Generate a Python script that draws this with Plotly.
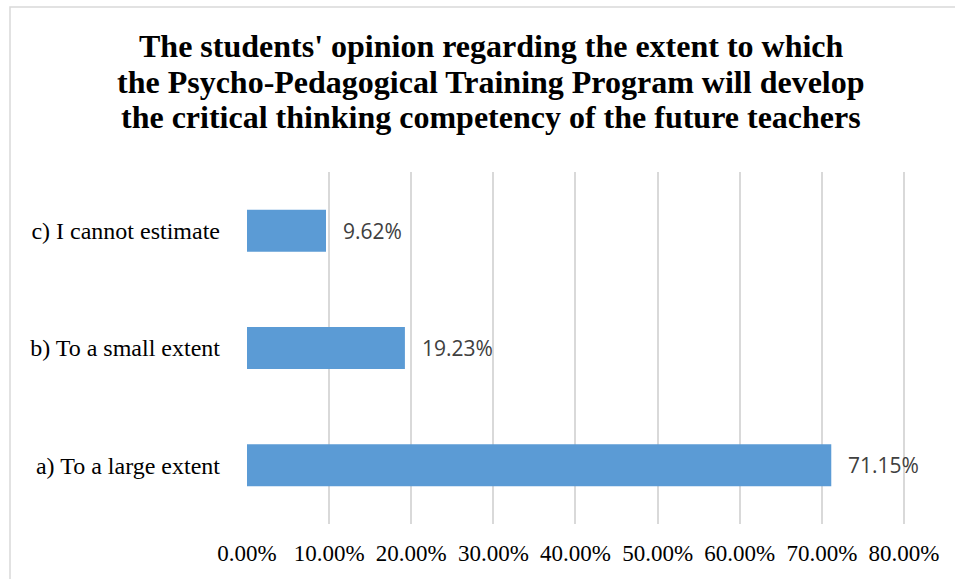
import plotly.graph_objects as go

categories = ["a) To a large extent", "b) To a small extent", "c) I cannot estimate"]
values = [0.7115, 0.1923, 0.0962]
value_labels = ["71.15%", "19.23%", "9.62%"]
title_lines = [
    "The students' opinion regarding the extent to which",
    "the Psycho-Pedagogical Training Program will develop",
    "the critical thinking competency of the future teachers",
]
tick_values = [0, 0.1, 0.2, 0.3, 0.4, 0.5, 0.6, 0.7, 0.8]

W, H = 955, 579
L, R, T, B = 247, 49, 172, 55
pw, ph = W - L - R, H - T - B

def px_x(p):
    return (p - L) / pw

def px_y(p):
    return (H - B - p) / ph

fig = go.Figure()
fig.add_trace(go.Bar(
    y=categories, x=values, orientation="h",
    marker=dict(color="#5B9BD5", line=dict(width=0)),
    hoverinfo="skip",
))

annotations = []
for c, v, lab in zip(categories, values, value_labels):
    annotations.append(dict(
        x=v, y=c, xref="x", yref="y", text=lab, showarrow=False,
        xanchor="left", yanchor="middle", xshift=15,
        font=dict(family="Open Sans", size=21, color="#404040"),
    ))

title_centers = [46, 82, 117]
for line, cy in zip(title_lines, title_centers):
    annotations.append(dict(
        x=px_x(491), y=px_y(cy), xref="paper", yref="paper", text="<b>" + line + "</b>",
        showarrow=False, xanchor="center", yanchor="middle",
        font=dict(family="Liberation Serif", size=32, color="#000000"),
    ))

fig.update_layout(
    width=W, height=H,
    margin=dict(l=L, r=R, t=T, b=B, pad=0),
    paper_bgcolor="white", plot_bgcolor="white",
    bargap=0.642,
    showlegend=False,
    annotations=annotations,
    shapes=[dict(
        type="rect", xref="paper", yref="paper",
        x0=px_x(10), x1=px_x(965), y0=px_y(590), y1=px_y(7),
        line=dict(color="#D9D9D9", width=1.5), fillcolor="rgba(0,0,0,0)", layer="below",
    )],
    xaxis=dict(
        range=[0, 0.8025], tickvals=tick_values, tickformat=".2%",
        showgrid=True, gridcolor="#D9D9D9", gridwidth=1.5,
        zeroline=False, showline=False, ticks="",
        tickfont=dict(family="Liberation Serif", size=23, color="#000000"),
        ticklabelstandoff=13,
    ),
    yaxis=dict(
        showgrid=False, zeroline=False, showline=False, ticks="",
        tickfont=dict(family="Liberation Serif", size=24, color="#000000"),
        ticklabelstandoff=26,
    ),
)

fig.write_html(
    "out.html",
    config={"displayModeBar": False},
    post_script="document.body.style.margin='0';document.body.style.overflow='hidden';",
)
